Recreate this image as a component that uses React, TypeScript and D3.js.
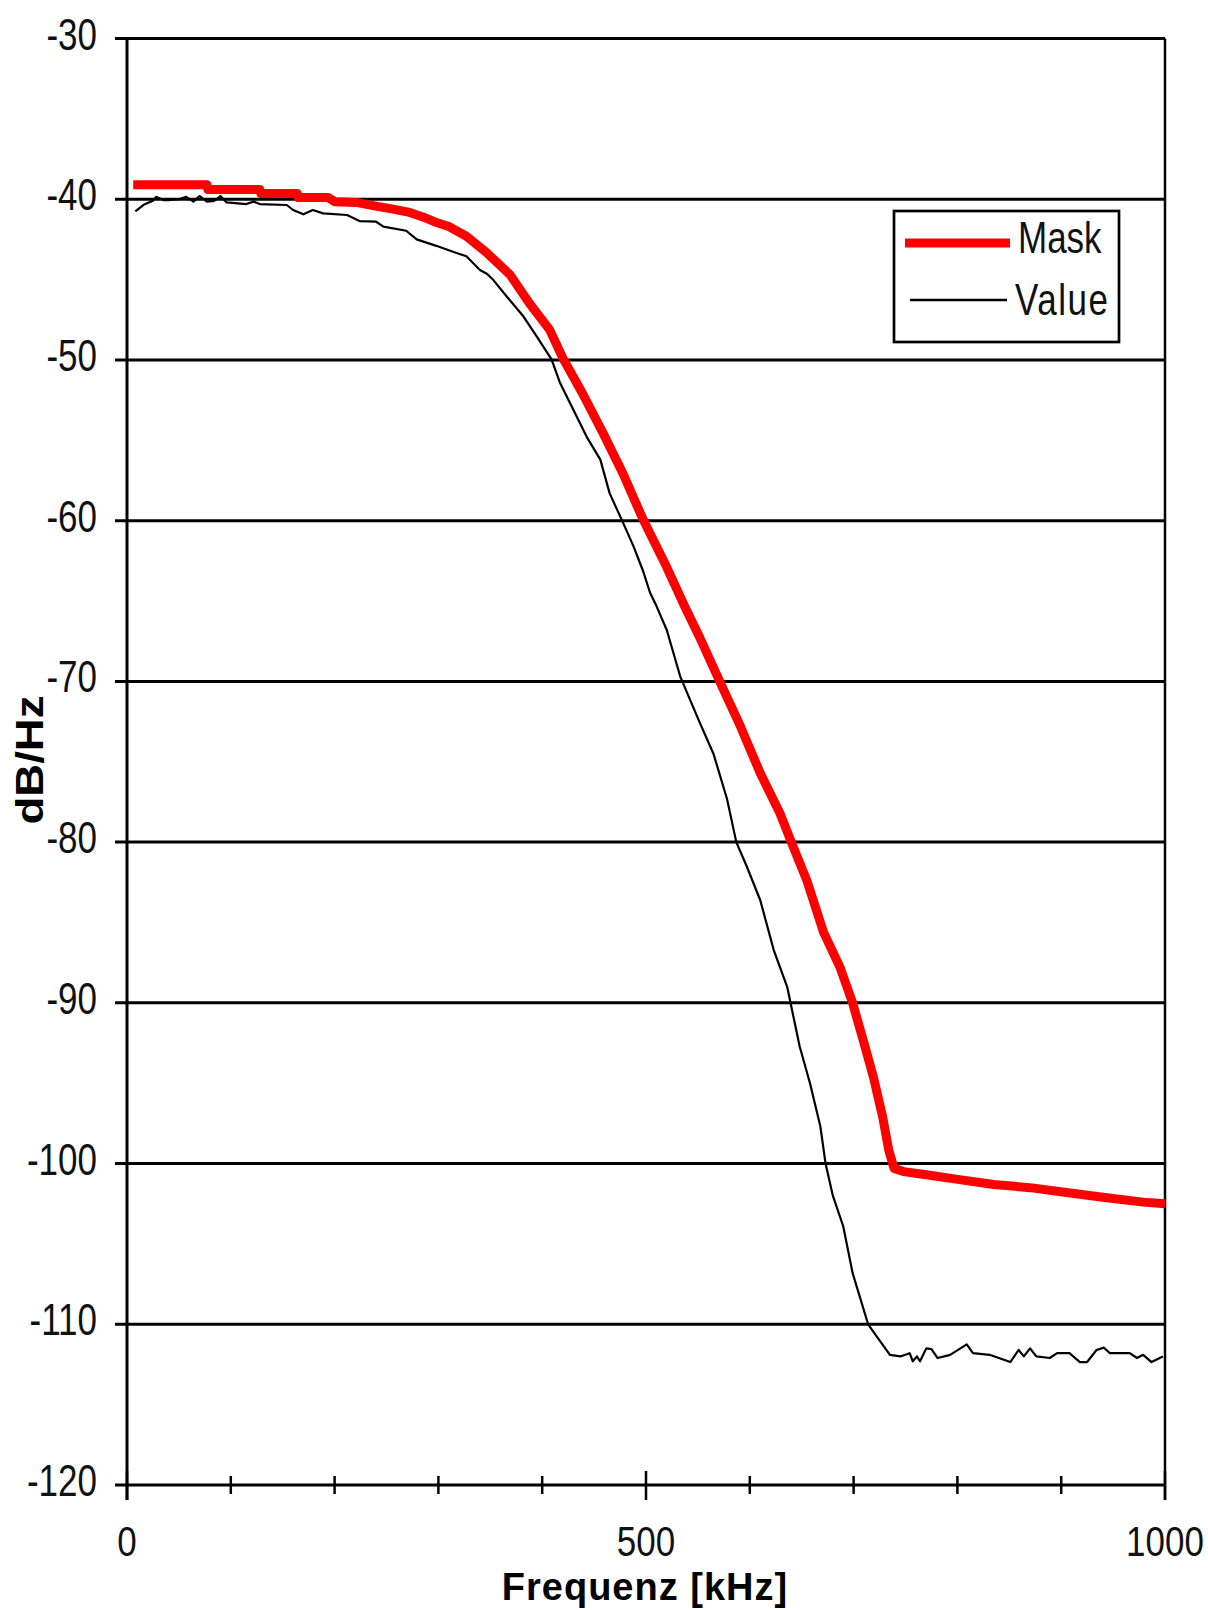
import React from "react";
import * as d3 from "d3";

// ---- data ----
const yTicks = [-30, -40, -50, -60, -70, -80, -90, -100, -110, -120];
const yTickLabels = ["-30", "-40", "-50", "-60", "-70", "-80", "-90", "-100", "-110", "-120"];
const xMajorTicks = [0, 500, 1000];
const xMajorLabels = ["0", "500", "1000"];
const xMinorTicks = [100, 200, 300, 400, 600, 700, 800, 900];

const maskFreq = [6, 77, 78, 128, 129, 164, 165, 194, 200, 221, 237, 255, 271, 285, 296, 310, 327, 346, 369, 388, 407, 420, 439, 459, 478, 497, 520, 537, 552, 571, 591, 610, 629, 640, 655, 671, 687, 699, 710, 719, 728, 734, 739, 748, 770, 802, 835, 870, 905, 940, 979, 1000];
const maskDb = [-39.1, -39.1, -39.4, -39.4, -39.65, -39.65, -39.9, -39.9, -40.15, -40.2, -40.4, -40.6, -40.8, -41.1, -41.4, -41.7, -42.3, -43.3, -44.7, -46.5, -48.1, -49.9, -52.1, -54.6, -57.1, -59.9, -62.9, -65.3, -67.3, -70.0, -72.8, -75.7, -78.2, -80.0, -82.4, -85.6, -87.8, -90.0, -92.5, -94.6, -97.1, -99.2, -100.3, -100.5, -100.7, -101.0, -101.3, -101.5, -101.8, -102.1, -102.4, -102.5];

const valueFreq = [8, 16, 25, 28, 35, 41, 50, 57, 64, 70, 77, 84, 90, 96, 115, 122, 128, 154, 160, 170, 179, 189, 212, 224, 240, 247, 269, 279, 298, 314, 327, 340, 347, 353, 366, 382, 395, 409, 417, 430, 443, 456, 465, 477, 488, 497, 504, 510, 520, 533, 552, 565, 578, 587, 597, 610, 623, 636, 648, 658, 668, 673, 680, 690, 699, 714, 725, 735, 745, 754, 757, 761, 764, 770, 775, 781, 793, 809, 815, 831, 851, 859, 864, 870, 876, 889, 896, 908, 918, 925, 934, 941, 947, 966, 973, 979, 987, 998];
const valueDb = [-40.75, -40.35, -40.1, -39.85, -40.05, -40.05, -40.0, -39.85, -40.15, -39.8, -40.15, -40.1, -39.8, -40.2, -40.3, -40.15, -40.3, -40.36, -40.67, -40.94, -40.67, -40.88, -40.98, -41.36, -41.4, -41.7, -41.96, -42.5, -42.9, -43.27, -43.55, -44.4, -44.65, -45.03, -46.07, -47.3, -48.56, -49.96, -51.4, -53.1, -54.8, -56.2, -58.3, -60.0, -61.6, -63.1, -64.5, -65.3, -66.8, -69.7, -72.6, -74.5, -77.3, -80.0, -81.5, -83.6, -86.7, -89.0, -92.7, -95.0, -97.7, -100.0, -102.0, -103.9, -106.8, -110.0, -111.0, -111.9, -112.0, -111.8, -112.3, -112.0, -112.3, -111.5, -111.55, -112.1, -111.9, -111.25, -111.8, -111.9, -112.35, -111.6, -112.0, -111.5, -112.0, -112.1, -111.8, -111.8, -112.35, -112.35, -111.6, -111.45, -111.8, -111.8, -112.1, -111.9, -112.35, -112.0];

const seriesNames = ["Mask", "Value"];
const xTitle = "Frequenz [kHz]";
const yTitle = "dB/Hz";

export default function App() {
  const W = 1208;
  const H = 1610;
  const x = d3.scaleLinear().domain([0, 1000]).range([127, 1165]);
  const y = d3.scaleLinear().domain([-120, -30]).range([1485, 38.5]);

  const line = d3
    .line<[number, number]>()
    .x((d) => x(d[0]))
    .y((d) => y(d[1]));

  const maskPts: [number, number][] = maskFreq.map((f, i) => [f, maskDb[i]]);
  const valuePts: [number, number][] = valueFreq.map((f, i) => [f, valueDb[i]]);

  const font = "'Liberation Sans', Arial, sans-serif";
  const x0 = x(0);
  const x1 = x(1000);
  const yBottom = y(-120);

  return (
    <svg
      width={W}
      height={H}
      style={{ position: "absolute", left: 0, top: 0, background: "#fff" }}
    >
      <rect x={0} y={0} width={W} height={H} fill="#fff" />
      {/* gridlines + y ticks */}
      {yTicks.map((t) => (
        <line key={"g" + t} x1={x0 - 12} x2={x1} y1={y(t)} y2={y(t)} stroke="#000" strokeWidth={3} />
      ))}
      {/* y axis */}
      <line x1={x0} x2={x0} y1={y(-30)} y2={yBottom + 15} stroke="#000" strokeWidth={3} />
      {/* right border */}
      <line x1={x1} x2={x1} y1={y(-30)} y2={yBottom + 15} stroke="#000" strokeWidth={2.5} />
      {/* x ticks */}
      {xMinorTicks.map((t) => (
        <line key={"mt" + t} x1={x(t)} x2={x(t)} y1={yBottom - 9} y2={yBottom + 9} stroke="#000" strokeWidth={2.5} />
      ))}
      {xMajorTicks.map((t) => (
        <line key={"Mt" + t} x1={x(t)} x2={x(t)} y1={yBottom - 14} y2={yBottom + 15} stroke="#000" strokeWidth={2.5} />
      ))}
      {/* y tick labels */}
      {yTicks.map((t, i) => (
        <g key={"yl" + t} transform={`translate(97,${y(t) + 11}) scale(1,1.25)`}>
          <text x={0} y={0} textAnchor="end" fontFamily={font} fontSize={35} fill="#111">
            {yTickLabels[i]}
          </text>
        </g>
      ))}
      {/* x tick labels */}
      {xMajorTicks.map((t, i) => (
        <g key={"xl" + t} transform={`translate(${x(t)},1556) scale(1,1.2)`}>
          <text x={0} y={0} textAnchor="middle" fontFamily={font} fontSize={35} fill="#111">
            {xMajorLabels[i]}
          </text>
        </g>
      ))}
      {/* axis titles */}
      <text x={645} y={1600} textAnchor="middle" fontFamily={font} fontWeight="bold" fontSize={38} letterSpacing={1} fill="#000">
        {xTitle}
      </text>
      <g transform="translate(43,760) rotate(-90) scale(1.2,1)">
        <text x={0} y={0} textAnchor="middle" fontFamily={font} fontWeight="bold" fontSize={38} fill="#000">
          {yTitle}
        </text>
      </g>
      {/* series */}
      <path d={line(valuePts) || ""} fill="none" stroke="#000" strokeWidth={2.2} strokeLinejoin="round" />
      <path d={line(maskPts) || ""} fill="none" stroke="#ff0000" strokeWidth={9} strokeLinejoin="round" />
      {/* legend */}
      <rect x={894} y={211} width={225} height={131} fill="#fff" stroke="#000" strokeWidth={2.7} />
      <line x1={905} x2={1010} y1={243} y2={243} stroke="#ff0000" strokeWidth={9} />
      <line x1={910} x2={1007} y1={300} y2={300} stroke="#000" strokeWidth={2.5} />
      <g transform="translate(1018,253) scale(1,1.25)">
        <text x={0} y={0} fontFamily={font} fontSize={35} fill="#111">{seriesNames[0]}</text>
      </g>
      <g transform="translate(1015,315) scale(1,1.25)">
        <text x={0} y={0} fontFamily={font} fontSize={35} letterSpacing={1.5} fill="#111">{seriesNames[1]}</text>
      </g>
    </svg>
  );
}
